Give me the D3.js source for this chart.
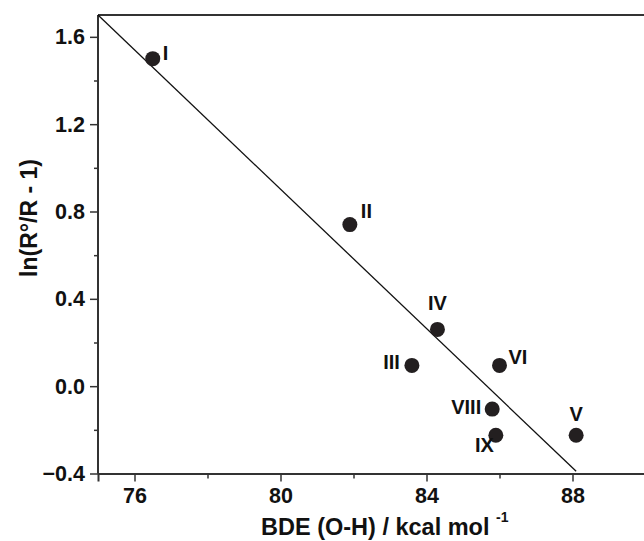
<!DOCTYPE html>
<html><head><meta charset="utf-8">
<script src="https://cdn.jsdelivr.net/npm/d3@7"></script>
<style>
body{margin:0;background:#fff;}
svg{display:block;font-family:"Liberation Sans",Arial,Helvetica,sans-serif;font-weight:bold;}
</style></head>
<body><svg id="c" width="644" height="541"></svg>
<script>
// Data
const labels = ["I","II","III","IV","V","VI","VIII","IX"];
const bde = [76.5, 81.9, 83.6, 84.3, 88.1, 86.0, 85.8, 85.9];
const lnR = [1.50, 0.74, 0.095, 0.26, -0.225, 0.095, -0.105, -0.225];
const fitX = [75, 88.1];
const fitY = [1.70, -0.39];
const xMajor = [76, 80, 84, 88];
const xMinor = [78, 82, 86, 90];
const yMajor = [-0.4, 0.0, 0.4, 0.8, 1.2, 1.6];
const yMinor = [-0.2, 0.2, 0.6, 1.0, 1.4];
const xTitle = "BDE (O-H) / kcal mol";
const xTitleSup = "-1";
const yTitle = "ln(R°/R - 1)";

const svg = d3.select("#c");
const L = 98, R = 645.5, T = 15, B = 473.5;
const x = d3.scaleLinear().domain([75, 90]).range([L, R]);
const y = d3.scaleLinear().domain([-0.4, 1.7]).range([B, T]);
const axisColor = "#333";

// frame top
svg.append("line").attr("x1", L).attr("x2", R).attr("y1", T).attr("y2", T)
  .attr("stroke", axisColor).attr("stroke-width", 2);

// Axes
const fmtY = d => d3.format(".1f")(d);
const gx = svg.append("g").attr("transform", `translate(0,${B})`)
  .call(d3.axisBottom(x).tickValues(xMajor).tickSize(8).tickPadding(6).tickFormat(d3.format("d")));
const gxm = svg.append("g").attr("transform", `translate(0,${B})`)
  .call(d3.axisBottom(x).tickValues(xMinor).tickSize(5).tickFormat(""));
const gy = svg.append("g").attr("transform", `translate(${L},0)`)
  .call(d3.axisLeft(y).tickValues(yMajor).tickSize(8).tickPadding(5).tickFormat(fmtY));
const gym = svg.append("g").attr("transform", `translate(${L},0)`)
  .call(d3.axisLeft(y).tickValues(yMinor).tickSize(4).tickFormat(""));
[gx, gxm, gy, gym].forEach(g => {
  g.select(".domain").attr("stroke", axisColor).attr("stroke-width", 2);
  g.selectAll(".tick line").attr("stroke", axisColor).attr("stroke-width", 1.5);
  g.selectAll("text").attr("fill", "#111").attr("font-size", 21.5).attr("font-weight", "bold")
    .attr("font-family", '"Liberation Sans", Arial, sans-serif');
});
gy.select(".domain").attr("d", `M0,${T}V${B}`);
gym.select(".domain").remove();
gxm.select(".domain").remove();

// fit line
svg.append("line")
  .attr("x1", x(fitX[0])).attr("y1", y(fitY[0]))
  .attr("x2", x(fitX[1])).attr("y2", y(fitY[1]))
  .attr("stroke", "#111").attr("stroke-width", 1.3);

// points
const pts = labels.map((l, i) => ({l, x: bde[i], y: lnR[i]}));
svg.append("g").selectAll("circle").data(pts).join("circle")
  .attr("cx", d => x(d.x)).attr("cy", d => y(d.y)).attr("r", 7.5).attr("fill", "#231f20");

// point labels (offsets in px)
const off = {
  "I": [10, 1, "start"], "II": [11, -7, "start"], "III": [-12, 4, "end"],
  "IV": [0, -19, "middle"], "V": [0, -14, "middle"], "VI": [9, -1, "start"],
  "VIII": [-11, 5, "end"], "IX": [-2, 17, "end"]
};
svg.append("g").selectAll("text").data(pts).join("text")
  .attr("x", d => x(d.x) + off[d.l][0]).attr("y", d => y(d.y) + off[d.l][1])
  .attr("text-anchor", d => off[d.l][2])
  .attr("font-size", 20).attr("fill", "#111").text(d => d.l);

// axis titles
const xt = svg.append("text").attr("x", 261).attr("y", 535).attr("font-size", 23.5).attr("fill", "#111");
xt.append("tspan").text(xTitle + " ");
xt.append("tspan").attr("font-size", 14).attr("dy", -13).text(xTitleSup);

svg.append("text").attr("transform", "translate(37,218) rotate(-90)")
  .attr("text-anchor", "middle").attr("font-size", 23).attr("fill", "#111").text(yTitle);
</script></body></html>
